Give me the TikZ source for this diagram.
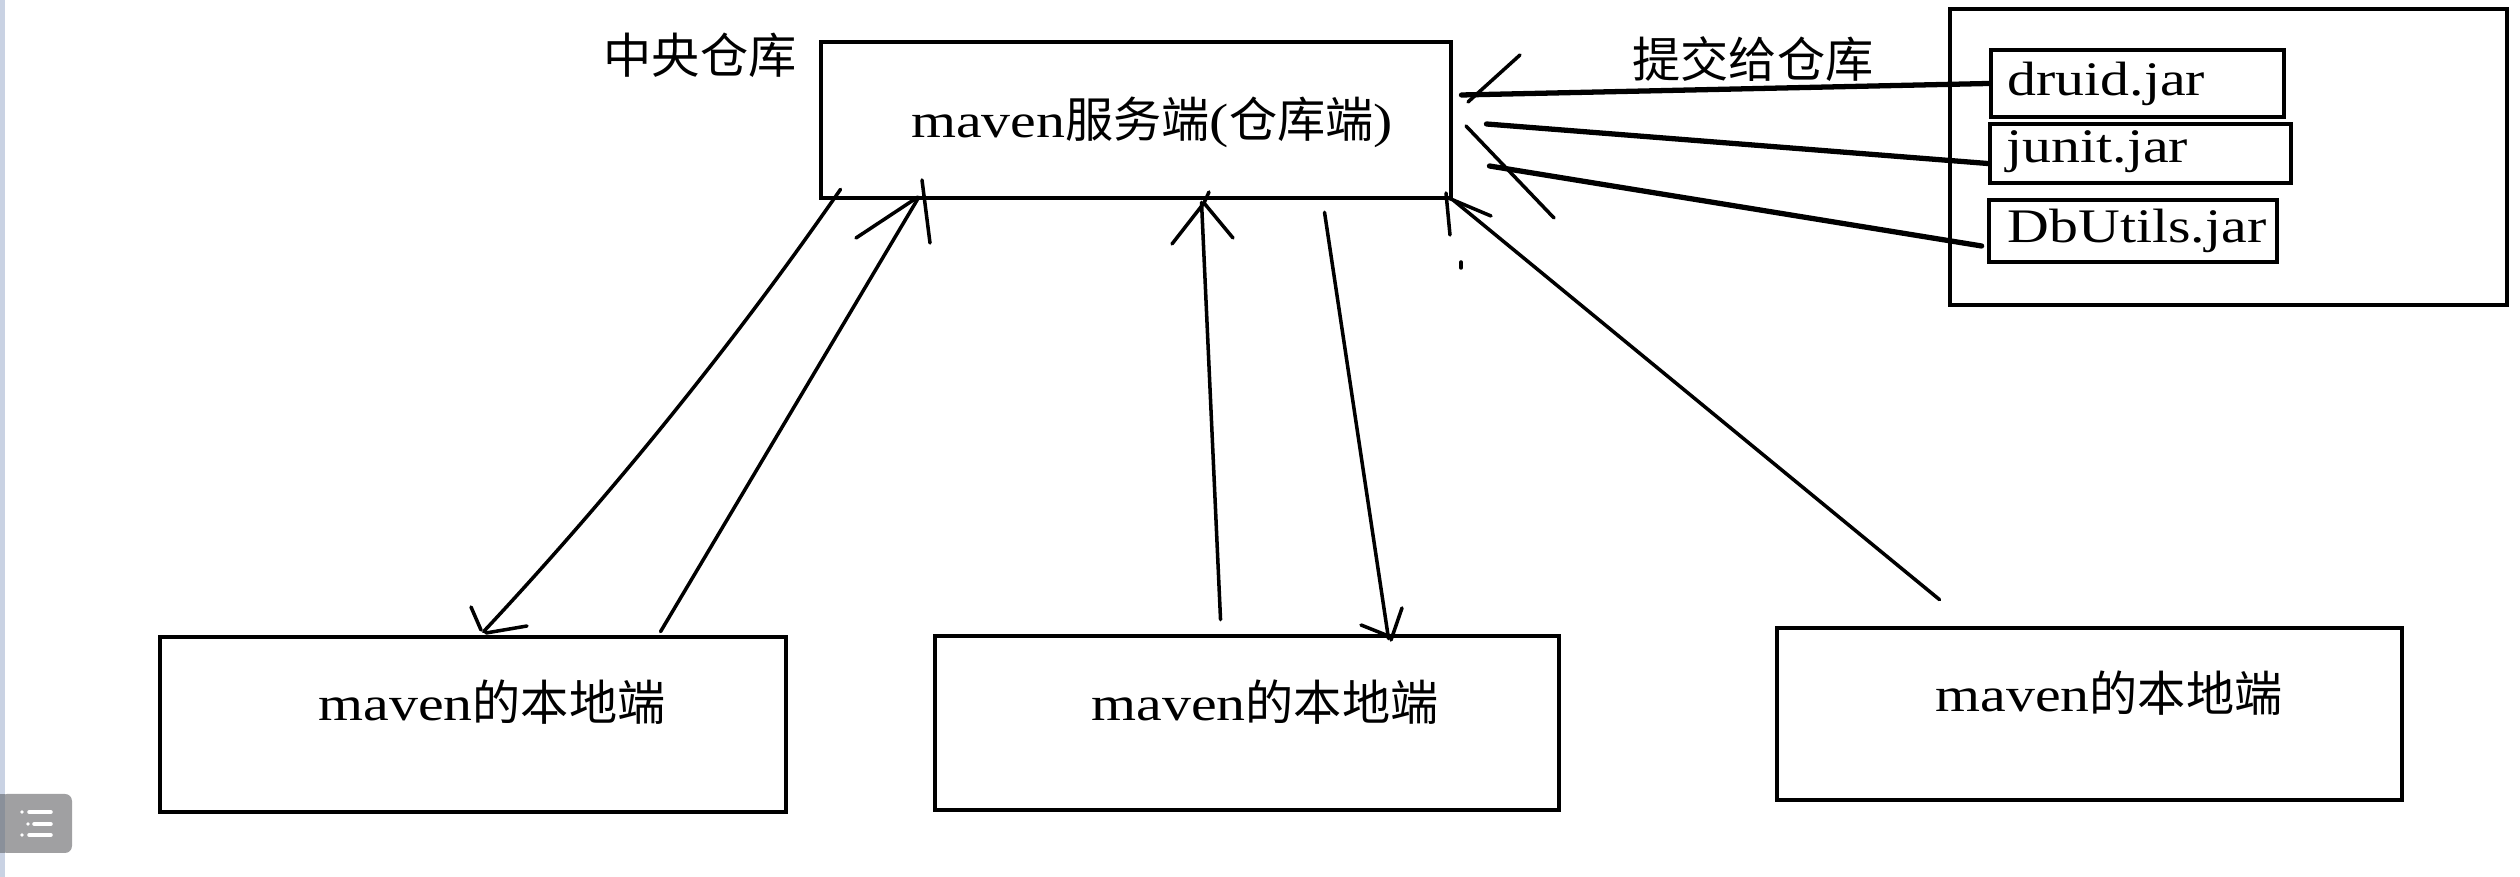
\documentclass[tikz,border=0pt]{standalone}
\usepackage{fontspec}
\setmainfont{Liberation Serif}[FakeStretch=1.2]
\newfontfamily\cjk{Noto Sans CJK SC}
\usetikzlibrary{calc}
\definecolor{stripc}{HTML}{C9D2E3}
\definecolor{widgetc}{HTML}{A0A0A2}
\definecolor{widgetd}{HTML}{8A909A}
\tikzset{
  box/.style={draw, line width=1.3pt, inner sep=0pt, rectangle},
  jarbox/.style={draw, line width=1.3pt, inner sep=0pt, rectangle},
  txt/.style={inner sep=0pt, font=\fontsize{13.7pt}{16pt}\selectfont},
  conn/.style={line width=1pt, line cap=round},
  barb/.style={line width=1pt, line cap=round},
  jarline/.style={line width=1.5pt, line cap=round},
}
\begin{document}
\begin{tikzpicture}[x=0.01cm,y=-0.01cm]
\useasboundingbox (0,0) rectangle (2520,877);
% screenshot chrome
\fill[stripc] (0,0) rectangle (5,877);
\fill[widgetc, rounded corners=0.07cm] (0,794) -- (72,794) -- (72,853) -- (0,853) -- cycle;
\fill[widgetd] (0,794) rectangle (5,853);
\begin{scope}[white, line width=1pt, line cap=round]
  \fill (22,812) circle (0.018cm);
  \fill (28,824) circle (0.018cm);
  \fill (22,835) circle (0.018cm);
  \draw (29,812) -- (51,812);
  \draw (34,824) -- (51,824);
  \draw (29,835) -- (51,835);
\end{scope}

% central repository
\node[box, minimum width=6.30cm, minimum height=1.56cm] (c) at (1136,120) {};
\node[txt] (ct) at (1152,122) {maven{\cjk 服务端}({\cjk 仓库端})};
\node[txt] (lab1) at (700,55) {\cjk 中央仓库};
\node[txt] (lab2) at (1753,59) {\cjk 提交给仓库};

% local ends
\node[box, minimum width=6.26cm, minimum height=1.75cm] (l1) at (473,724.5) {};
\node[txt] (l1t) at (492,702) {maven{\cjk 的本地端}};
\node[box, minimum width=6.24cm, minimum height=1.74cm] (l2) at (1247,723) {};
\node[txt] (l2t) at (1265,702) {maven{\cjk 的本地端}};
\node[box, minimum width=6.25cm, minimum height=1.72cm] (l3) at (2089.5,714) {};
\node[txt] (l3t) at (2109,693) {maven{\cjk 的本地端}};

% jar group
\node[box, minimum width=5.57cm, minimum height=2.96cm] (g) at (2228.5,157) {};
\node[jarbox, minimum width=2.93cm, minimum height=0.67cm] (dr) at (2137.5,83.5) {};
\node[txt, anchor=west] (drt) at (2007,84) {druid.jar};
\node[jarbox, minimum width=3.01cm, minimum height=0.59cm] (ju) at (2140.5,153.5) {};
\node[txt, anchor=west] (jut) at (2006,152) {junit.jar};
\node[jarbox, minimum width=2.88cm, minimum height=0.62cm] (db) at (2133,231) {};
\node[txt, anchor=west] (dbt) at (2007,231) {DbUtils.jar};

% connectors from jars to repository
\draw[jarline] ($(c.east)+(8,-25)$) -- (dr.west);
\draw[jarline] ($(c.east)+(33,4)$) -- ($(ju.west)+(0,10)$);
\draw[jarline] ($(c.east)+(36,46)$) -- ($(db.west)+(-5,15)$);
\draw[barb] (1520,55) -- (1468,102);
\draw[barb] (1466,126) -- (1554,218);
\draw[barb] (1461,262) -- (1461,268);

% connector 1: repository -> local 1
\draw[conn] ($(c.south west)+(22,-11)$) .. controls (734,343) and (614,492) .. ($(l1.north west)+(326,-3)$) coordinate (t1);
\draw[barb] (471,607) -- (481,630);
\draw[barb] (486,633) -- (527,626);

% connector 2: local 1 -> repository
\draw[conn] ($(l1.north west)+(503,-3)$) -- ($(c.south west)+(99,-1)$) coordinate (t2);
\draw[barb] (856,238) -- (918,197);
\draw[barb] (922,180) -- (930,243);

% connector 3: local 2 -> repository
\draw[conn] ($(l2.north west)+(288,-14)$) -- ($(c.south west)+(383,2)$) coordinate (t3);
\draw[barb] (1172,244) -- (1204,203) -- (1233,238);
\draw[barb] (1204,203) -- (1209,192);

% connector 4: repository -> local 2
\draw[conn] ($(c.south west)+(506,12)$) -- ($(l2.north west)+(456,5)$) coordinate (t4);
\draw[barb] (1361,625) -- (1391,637);
\draw[barb] (1402,608) -- (1391,640);

% connector 5: local 3 -> repository
\draw[conn] ($(l3.north west)+(165,-26)$) -- (c.south east);
\draw[barb] (1446,197) -- (1491,216);
\draw[barb] (1446,193) -- (1450,235);
\end{tikzpicture}
\end{document}
